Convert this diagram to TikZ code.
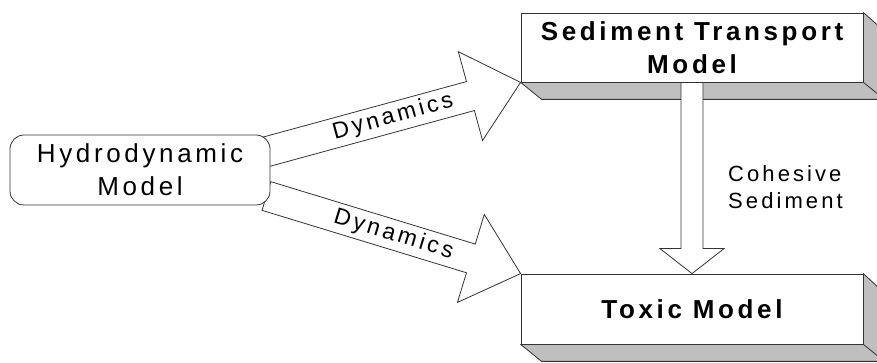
\documentclass[tikz,border=0pt]{standalone}
\usepackage{fontspec}
\setmainfont{Liberation Sans}
\newfontfamily\spacedfont[LetterSpace=14]{Liberation Sans}
\usetikzlibrary{calc, positioning, backgrounds}

\tikzset{
  model/.style={draw=black!80, line width=0.8pt, fill=white, minimum width=342pt,
    minimum height=69pt, inner sep=0pt, align=center,
    font=\spacedfont\bfseries\fontsize{26}{33}\selectfont},
  roundmodel/.style={draw=black!80, line width=0.8pt, fill=white, rounded corners=14pt,
    minimum width=260pt, minimum height=70pt, inner sep=0pt, align=center,
    font=\spacedfont\fontsize{26}{33}\selectfont},
  slab/.style={draw=black!80, line width=0.8pt, fill=black!25, line join=round},
  hollow/.style={draw=black!80, line width=0.8pt, fill=white, line join=miter},
  dyn/.style={font=\spacedfont\fontsize{23}{27}\selectfont, inner sep=0pt},
  note/.style={font=\spacedfont\fontsize{22}{27}\selectfont, align=left, inner sep=0pt}
}

% hollow block arrow: shaft half width, head half width, head length, tail, tip
\newcommand{\fatarrow}[5]{%
  \coordinate (neck) at ($(#5)!#3!(#4)$);
  \draw[hollow] ($(#4)!#1!90:(#5)$) -- ($(neck)!#1!90:(#5)$) -- ($(neck)!#2!90:(#5)$)
    -- (#5) -- ($(neck)!#2!-90:(#5)$) -- ($(neck)!#1!-90:(#5)$) -- ($(#4)!#1!-90:(#5)$) -- cycle;
}

\begin{document}
\begin{tikzpicture}[x=1pt, y=1pt]
\useasboundingbox (0,0) rectangle (877,363);

\node[roundmodel] (hydro) at (140,193) {Hydrodynamic\\Model};
\node[model] (sed) at (692,315.5) {Sediment Transport\\Model};
\node[model, minimum height=70pt] (toxic) at (692,54) {Toxic Model};

\coordinate (tailU) at ($(hydro.east)+(-5,18)$);
\coordinate (tailL) at ($(hydro.east)+(-4,-26)$);

\begin{scope}[on background layer]
% 3d slabs under the two model boxes
\foreach \m in {sed, toxic} {
  \draw[slab] (\m.south west) -- ++(21,-17) -- ++(342,0) -- ++(0,69)
    -- (\m.north east) -- (\m.south east) -- cycle;
  \draw[slab] (\m.south east) -- ++(21,-17);
}

\fatarrow{15pt}{46pt}{52pt}{tailU}{sed.south west}
\fatarrow{15pt}{46pt}{52pt}{tailL}{toxic.north west}
\fatarrow{11pt}{32pt}{25pt}{sed.south}{toxic.north}
\end{scope}

\path (tailU) -- node[sloped, dyn] {Dynamics} (sed.south west);
\path (tailL) -- node[sloped, dyn] {Dynamics} (toxic.north west);

\node[note, anchor=west] (cohesive) at (728,176) {Cohesive\\Sediment};
\end{tikzpicture}
\end{document}
